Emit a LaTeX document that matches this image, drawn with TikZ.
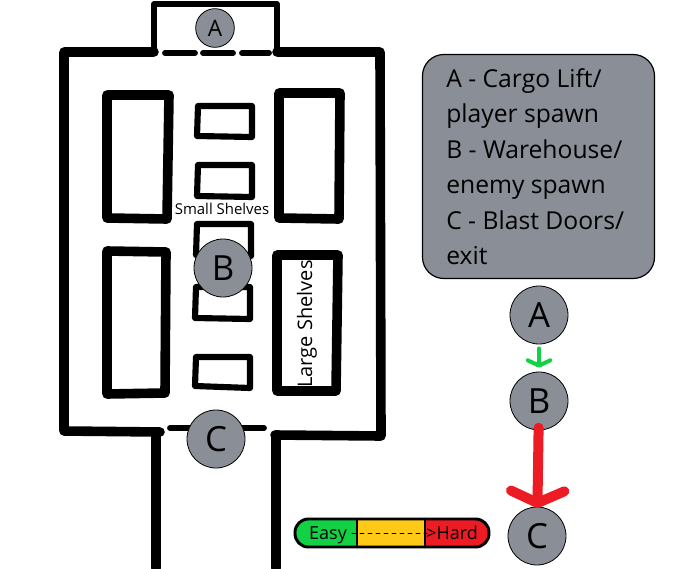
\documentclass[tikz,border=0pt]{standalone}
\usepackage{fontspec}
\setmainfont{Open Sans}
\usetikzlibrary{arrows.meta}

\definecolor{pingrey}{HTML}{8A8F97}
\definecolor{easygreen}{HTML}{12D145}
\definecolor{midamber}{HTML}{FFC917}
\definecolor{hardred}{HTML}{ED1C24}

\begin{document}
\begin{tikzpicture}[x=0.75pt, y=-0.75pt, line join=round, line cap=round,
  wall/.style={draw, line width=7.2pt},
  thinwall/.style={draw, line width=4pt},
  door/.style={draw, line width=4.4pt},
  bigshelf/.style={draw, line width=7.2pt},
  smallshelf/.style={draw, line width=4.6pt},
  pin/.style={circle, draw, line width=0.6pt, fill=pingrey, inner sep=0pt, minimum size=43.5pt, font=\fontsize{26}{26}\selectfont},
  smallpin/.style={pin, minimum size=29pt, font=\fontsize{17}{17}\selectfont},
  key/.style={draw, line width=0.9pt, fill=pingrey, rounded corners=16pt, minimum width=174pt, minimum height=168pt},
  keytext/.style={anchor=west, align=left, inner sep=0pt, font=\fontsize{18.5}{26.6}\selectfont},
  barpart/.style={minimum height=21pt, inner sep=0pt},
  bartext/.style={anchor=base, font=\fontsize{13.5}{13.5}\selectfont}]
  \useasboundingbox (0,0) rectangle (696,568);

  % Warehouse walls
  \path [wall] (160,432) -- (64,431) -- (64,52) -- (154,52);
  \path [wall] (277,52) -- (380,52) -- (381,436) -- (275,435);
  \path [wall] (156,436) -- (156,568);
  \path [wall] (276,436) -- (276,568);
  \path [thinwall] (154,52) -- (154,4) -- (277,4) -- (277,52);

  % Doors
  \path [door] (165,53) -- (195,53);
  \path [door] (203,53) -- (233,53);
  \path [door] (242,53) -- (269,53);
  \path [door] (170,428) -- (264,428);

  % Large shelves
  \path [bigshelf] (107,95) -- (169,95) -- (167,219) -- (107,218) -- cycle;
  \path [bigshelf] (279,93) -- (340,93) -- (339,219) -- (279,218) -- cycle;
  \path [bigshelf] (107,251) -- (166,252) -- (165,393) -- (107,394) -- cycle;
  \path [bigshelf] (277,255) -- (338,255) -- (336,391) -- (277,391) -- cycle;

  % Small shelves
  \path [smallshelf] (198,106) -- (252,106) -- (252,137) -- (197,136) -- cycle;
  \path [smallshelf] (198,165) -- (252,165) -- (252,197) -- (197,196) -- cycle;
  \path [smallshelf] (197,224) -- (251,224) -- (251,256) -- (196,255) -- cycle;
  \path [smallshelf] (196,287) -- (250,287) -- (250,319) -- (195,318) -- cycle;
  \path [smallshelf] (196,357) -- (250,357) -- (250,388) -- (195,386) -- cycle;

  \node [font=\fontsize{11.2}{11.2}\selectfont] (small) at (222,209) {Small Shelves};
  \node [rotate=90, font=\fontsize{15}{15}\selectfont] (large) at (307,324) {Large Shelves};

  % Map pins
  \node [smallpin] (liftpin) at (215,28) {A};
  \node [pin] (housepin) at (223,268) {B};
  \node [pin] (doorpin) at (216,439) {C};

  % Key
  \node [key] (legend) at (538.5,166.5) {};
  \node [keytext] (legendtext) at (446,166.5) {A - Cargo Lift/\\player spawn\\B - Warehouse/\\enemy spawn\\C - Blast Doors/\\exit};

  % Route
  \node [pin] (routea) at (539,315) {A};
  \node [pin] (routeb) at (539,401) {B};
  \node [pin] (routec) at (537,536) {C};
  \draw [draw=easygreen, line width=3pt, -{Straight Barb[length=4pt, width=17pt, round]}, shorten <=3pt, shorten >=3pt] (routea) -- (routeb);
  \draw [draw=hardred, line width=7.5pt, -{Straight Barb[length=9pt, width=40pt, round]}, shorten <=-2pt, shorten >=-1pt] (routeb) -- (routec);

  % Difficulty bar
  \begin{scope}
    \clip [rounded corners=10pt] (295,519) rectangle (489,547);
    \node [barpart, minimum width=47.25pt, fill=easygreen] (easy) at (326,533) {};
    \node [barpart, minimum width=51pt, fill=midamber] (mid) at (391,533) {};
    \node [barpart, minimum width=48pt, fill=hardred] (hard) at (457,533) {};
  \end{scope}
  \draw [line width=2.2pt, rounded corners=10pt] (295,519) rectangle (489,547);
  \draw [line width=2.2pt] (357,519) -- (357,547);
  \draw [line width=2.2pt] (425,519) -- (425,547);
  \draw [line width=0.6pt, dashed] (352,533) -- (427,533);
  \node [bartext] (easytext) at (328,539) {Easy};
  \node [bartext] (hardtext) at (452,539) {>Hard};
\end{tikzpicture}
\end{document}
